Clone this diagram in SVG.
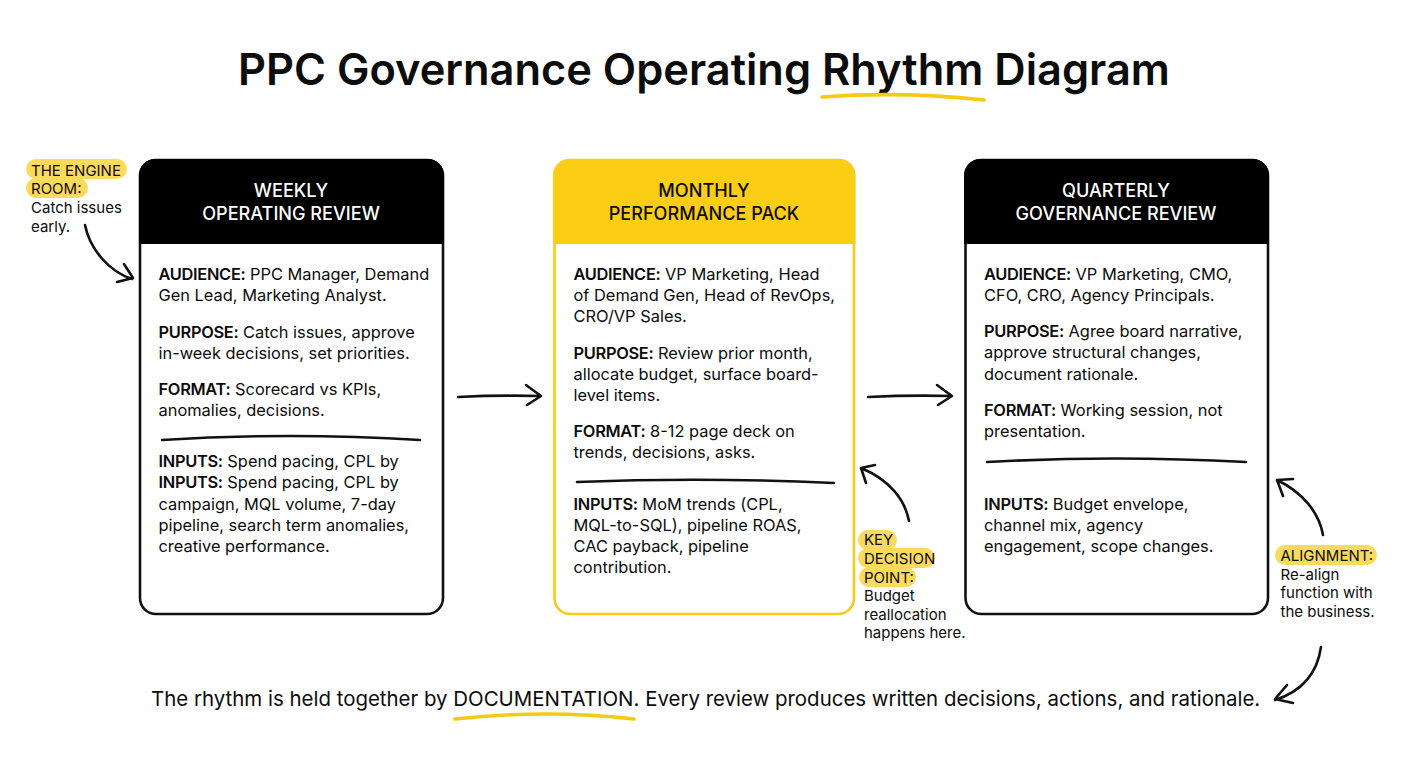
<svg xmlns="http://www.w3.org/2000/svg" width="1408" height="768" viewBox="0 0 1408 768">
<defs>
<clipPath id="c1"><rect x="139" y="159" width="305" height="85"/></clipPath>
<clipPath id="c2"><rect x="553" y="159" width="303" height="85"/></clipPath>
<clipPath id="c3"><rect x="964" y="159" width="305" height="85"/></clipPath>
</defs>
<style>
text{font-family:Inter,"Liberation Sans",sans-serif;fill:#0c0c0c}
.title{font-size:43.4px;font-weight:600}
.head{font-size:18.1px;font-weight:500;text-anchor:middle}
.body{font-size:16.4px}
.b{font-weight:600;letter-spacing:-0.3px}
.note{font-size:15px}
.foot{font-size:20.45px}
.card{fill:#fff;stroke:#111;stroke-width:2.6}
.ln{fill:none;stroke:#111;stroke-width:2.6;stroke-linecap:round;stroke-linejoin:round}
.div{fill:none;stroke:#111;stroke-width:2.6;stroke-linecap:round}
.hl{fill:#fcdb5c}
.ul{fill:none;stroke:#f6c913;stroke-width:3.6;stroke-linecap:round}
</style>
<rect width="1408" height="768" fill="#fff"/>
<g id="title">
<text class="title" x="238" y="85">PPC Governance Operating Rhythm Diagram</text>
<path class="ul" d="M822 97Q900 91 984 100"/>
</g>
<g id="weekly">
<rect class="card" x="140" y="160" width="303" height="454" rx="16"/>
<rect x="139" y="159" width="305" height="120" rx="16" fill="#000" clip-path="url(#c1)"/>
<text class="head" style="fill:#fff" x="291" y="196.500">WEEKLY</text>
<text class="head" style="fill:#fff" x="291" y="219.500">OPERATING REVIEW</text>
<text class="body" x="158.500" y="280"><tspan class="b">AUDIENCE:</tspan> PPC Manager, Demand</text>
<text class="body" x="158.500" y="301">Gen Lead, Marketing Analyst.</text>
<text class="body" x="158.500" y="338"><tspan class="b">PURPOSE:</tspan> Catch issues, approve</text>
<text class="body" x="158.500" y="359">in-week decisions, set priorities.</text>
<text class="body" x="158.500" y="395"><tspan class="b">FORMAT:</tspan> Scorecard vs KPIs,</text>
<text class="body" x="158.500" y="416">anomalies, decisions.</text>
<path class="div" d="M162 440Q290 432 420 440"/>
<text class="body" x="158.500" y="467"><tspan class="b">INPUTS:</tspan> Spend pacing, CPL by</text>
<text class="body" x="158.500" y="488"><tspan class="b">INPUTS:</tspan> Spend pacing, CPL by</text>
<text class="body" x="158.500" y="510">campaign, MQL volume, 7-day</text>
<text class="body" x="158.500" y="531">pipeline, search term anomalies,</text>
<text class="body" x="158.500" y="552">creative performance.</text>
</g>
<g id="monthly">
<rect class="card" style="stroke:#f8cb14" x="554.500" y="160" width="299.500" height="454" rx="16"/>
<rect x="553" y="159" width="302.500" height="120" rx="16" fill="#fbcd14" clip-path="url(#c2)"/>
<text class="head" x="704" y="196.500">MONTHLY</text>
<text class="head" x="704" y="219.500">PERFORMANCE PACK</text>
<text class="body" x="573.500" y="280"><tspan class="b">AUDIENCE:</tspan> VP Marketing, Head</text>
<text class="body" x="573.500" y="301">of Demand Gen, Head of RevOps,</text>
<text class="body" x="573.500" y="322">CRO/VP Sales.</text>
<text class="body" x="573.500" y="359"><tspan class="b">PURPOSE:</tspan> Review prior month,</text>
<text class="body" x="573.500" y="380">allocate budget, surface board-</text>
<text class="body" x="573.500" y="401">level items.</text>
<text class="body" x="573.500" y="437"><tspan class="b">FORMAT:</tspan> 8-12 page deck on</text>
<text class="body" x="573.500" y="458">trends, decisions, asks.</text>
<path class="div" d="M577 482Q705 477 834 483"/>
<text class="body" x="573.500" y="510"><tspan class="b">INPUTS:</tspan> MoM trends (CPL,</text>
<text class="body" x="573.500" y="531">MQL-to-SQL), pipeline ROAS,</text>
<text class="body" x="573.500" y="552">CAC payback, pipeline</text>
<text class="body" x="573.500" y="573">contribution.</text>
</g>
<g id="quarterly">
<rect class="card" x="965.500" y="160" width="302.500" height="454" rx="16"/>
<rect x="964" y="159" width="305" height="120" rx="16" fill="#000" clip-path="url(#c3)"/>
<text class="head" style="fill:#fff" x="1116" y="196.500">QUARTERLY</text>
<text class="head" style="fill:#fff" x="1116" y="219.500">GOVERNANCE REVIEW</text>
<text class="body" x="984" y="280"><tspan class="b">AUDIENCE:</tspan> VP Marketing, CMO,</text>
<text class="body" x="984" y="301">CFO, CRO, Agency Principals.</text>
<text class="body" x="984" y="337"><tspan class="b">PURPOSE:</tspan> Agree board narrative,</text>
<text class="body" x="984" y="358">approve structural changes,</text>
<text class="body" x="984" y="380">document rationale.</text>
<text class="body" x="984" y="416"><tspan class="b">FORMAT:</tspan> Working session, not</text>
<text class="body" x="984" y="437">presentation.</text>
<path class="div" d="M987 462Q1115 455 1246 462"/>
<text class="body" x="984" y="510"><tspan class="b">INPUTS:</tspan> Budget envelope,</text>
<text class="body" x="984" y="531">channel mix, agency</text>
<text class="body" x="984" y="552">engagement, scope changes.</text>
</g>
<g id="note-engine">
<rect class="hl" x="26" y="159" width="101" height="20" rx="10"/>
<rect class="hl" x="26" y="178" width="62" height="20" rx="10"/>
<text class="note" x="31" y="175.500">THE ENGINE</text>
<text class="note" x="31" y="194">ROOM:</text>
<text class="note" x="31" y="213">Catch issues</text>
<text class="note" x="31" y="232">early.</text>
</g>
<g id="note-decision">
<rect class="hl" x="858" y="530" width="39" height="20" rx="10"/>
<rect class="hl" x="858" y="548" width="77" height="20" rx="10"/>
<rect class="hl" x="859" y="567" width="57" height="20" rx="10"/>
<text class="note" x="864" y="545">KEY</text>
<text class="note" x="864" y="564">DECISION</text>
<text class="note" x="864" y="582.500">POINT:</text>
<text class="note" x="864" y="601">Budget</text>
<text class="note" x="864" y="620">reallocation</text>
<text class="note" x="864" y="638">happens here.</text>
</g>
<g id="note-alignment">
<rect class="hl" x="1275" y="545" width="102" height="20" rx="10"/>
<text class="note" x="1280.500" y="561">ALIGNMENT:</text>
<text class="note" x="1280.500" y="580">Re-align</text>
<text class="note" x="1280.500" y="598">function with</text>
<text class="note" x="1280.500" y="617">the business.</text>
</g>
<g id="footer">
<text class="foot" x="151" y="706">The rhythm is held together by DOCUMENTATION. Every review produces written decisions, actions, and rationale.</text>
<path class="ul" d="M455 719Q545 709 634 719"/>
</g>
<g id="connectors">
<path class="ln" d="M458 397Q500 395 540 396M526 385L541 396L527 405"/>
<path class="ln" d="M868 397Q910 395 951 396M937 385L952 396L938 405"/>
<path class="ln" d="M85 225C90 250 110 272 132 279M117 282L133 278L124 264"/>
<path class="ln" d="M909 521C905 500 890 480 861 468M866 483L861 468L875 465"/>
<path class="ln" d="M1323 535C1319 512 1302 492 1277 480M1283 496L1277 480L1293 479"/>
<path class="ln" d="M1321 647C1317 675 1300 692 1275 700M1287 685L1275 699L1293 703"/>
</g>
</svg>
